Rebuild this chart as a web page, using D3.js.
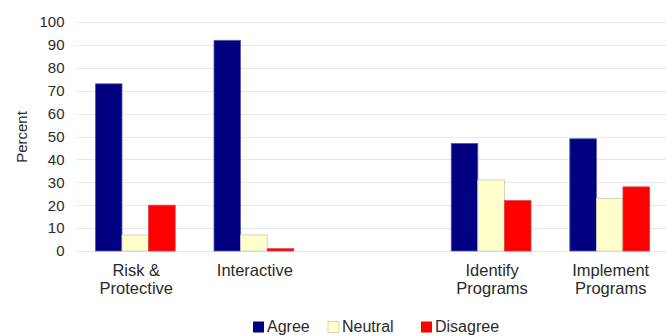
<!DOCTYPE html>
<html>
<head>
<meta charset="utf-8">
<script src="https://cdn.jsdelivr.net/npm/d3@7"></script>
<style>
  html, body { margin: 0; padding: 0; background: #fff; }
  svg { display: block; font-family: "Liberation Sans", Arial, sans-serif; }
</style>
</head>
<body>
<svg id="chart" width="666" height="336"></svg>
<script>
// Survey responses by topic (percent); the middle slot is intentionally empty
const categories = ["Risk & Protective", "Interactive", "", "Identify Programs", "Implement Programs"];
const categoryLines = [["Risk &", "Protective"], ["Interactive"], [], ["Identify", "Programs"], ["Implement", "Programs"]];
const seriesNames = ["Agree", "Neutral", "Disagree"];
const agree =    [73, 92, null, 47, 49];
const neutral =  [7, 7, null, 31, 23];
const disagree = [20, 1, null, 22, 28];
const yTicks = [0, 10, 20, 30, 40, 50, 60, 70, 80, 90, 100];
const colors = ["#000080", "#ffffcc", "#ff0000"];

const series = [agree, neutral, disagree];
const svg = d3.select("#chart");
const W = 666;
const plotLeft = 76, plotRight = 669, plotTop = 22, plotBottom = 251;

const x = d3.scaleBand().domain(categories.map((c, i) => i)).range([plotLeft, plotRight]);
const x1 = d3.scaleBand().domain(seriesNames).range([0, x.bandwidth()]).paddingInner(0).paddingOuter(0.73);
const y = d3.scaleLinear().domain([0, 100]).range([plotBottom, plotTop]);

// Horizontal gridlines
svg.append("g").selectAll("line").data(yTicks).join("line")
  .attr("x1", plotLeft).attr("x2", W)
  .attr("y1", d => Math.round(y(d)) + 0.5).attr("y2", d => Math.round(y(d)) + 0.5)
  .attr("stroke", "#e8e8e8").attr("stroke-width", 1);

// Y axis labels
const yAxis = d3.axisLeft(y).tickValues(yTicks).tickSize(0).tickPadding(0);
const gy = svg.append("g").attr("transform", "translate(64.5,0)").call(yAxis);
gy.select(".domain").remove();
gy.selectAll("text").attr("font-size", 15).attr("fill", "#2a2a2a")
  .attr("font-family", "Liberation Sans, Arial, sans-serif");

// Y axis title
svg.append("text")
  .attr("transform", "translate(26.5,137) rotate(-90)")
  .attr("text-anchor", "middle")
  .attr("font-size", 15).attr("fill", "#2a2a2a")
  .text("Percent");

// Bars
const groups = svg.append("g").selectAll("g").data(categories.map((c, i) => i)).join("g")
  .attr("transform", i => `translate(${x(i)},0)`);
groups.selectAll("rect")
  .data(i => seriesNames.map((s, k) => ({ s, k, v: series[k][i] })).filter(d => d.v != null))
  .join("rect")
  .attr("x", d => x1(d.s))
  .attr("width", x1.bandwidth())
  .attr("y", d => y(d.v))
  .attr("height", d => plotBottom - y(d.v))
  .attr("fill", d => colors[d.k])
  .attr("stroke", d => d.k === 1 ? "#c8c8b8" : d.k === 0 ? "#5a5aa8" : "#e04040")
  .attr("stroke-width", 0.8);

// Category labels
const cl = svg.append("g").selectAll("text").data(categories.map((c, i) => i)).join("text")
  .attr("text-anchor", "middle")
  .attr("x", i => x(i) + x.bandwidth() / 2 + 1)
  .attr("y", 276)
  .attr("font-size", 16.5).attr("fill", "#2a2a2a");
cl.selectAll("tspan").data(i => categoryLines[i]).join("tspan")
  .attr("x", function () { return d3.select(this.parentNode).attr("x"); })
  .attr("dy", (d, j) => j === 0 ? 0 : 18)
  .text(d => d);

// Legend
const legend = svg.append("g");
const legendX = [253, 328, 421];
seriesNames.forEach((s, k) => {
  legend.append("rect")
    .attr("x", legendX[k]).attr("y", 321.5)
    .attr("width", 11).attr("height", 11)
    .attr("fill", colors[k])
    .attr("stroke", k === 1 ? "#c8c8b8" : "none").attr("stroke-width", 0.8);
  legend.append("text")
    .attr("x", legendX[k] + 14).attr("y", 332)
    .attr("font-size", 16).attr("fill", "#2a2a2a")
    .text(s);
});
</script>
</body>
</html>
